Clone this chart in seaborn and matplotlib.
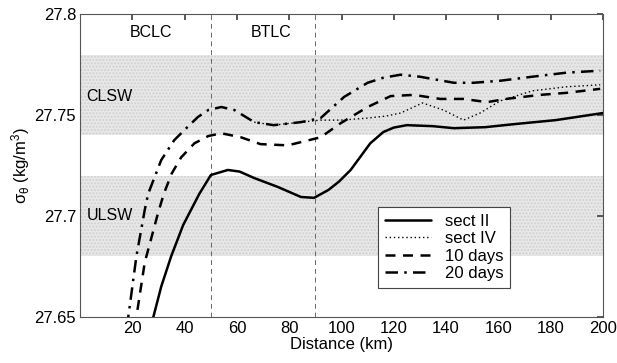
import matplotlib
matplotlib.use("Agg")
import matplotlib.pyplot as plt
import seaborn as sns
import pandas as pd
import numpy as np

sns.set_theme(style="white")
plt.rcParams['font.family'] = ['Liberation Sans', 'DejaVu Sans']
plt.rcParams['mathtext.fontset'] = 'custom'
plt.rcParams['mathtext.rm'] = 'Liberation Sans'
plt.rcParams['mathtext.it'] = 'Liberation Sans'
plt.rcParams['text.color'] = 'black'
plt.rcParams['axes.labelcolor'] = 'black'
plt.rcParams['xtick.color'] = 'black'
plt.rcParams['ytick.color'] = 'black'

# data (distance km, sigma_theta)
sect2_x = [27.0, 28, 31, 34.8, 39.4, 45.6, 50, 56.5, 61, 66.6, 75.6, 84.5, 89.5, 95, 99, 103.5, 111, 116, 120, 125, 135, 143, 155, 166, 182, 200]
sect2_y = [27.645, 27.65, 27.665, 27.68, 27.6955, 27.711, 27.7203, 27.7228, 27.722, 27.7188, 27.7144, 27.7094, 27.709, 27.7129, 27.717, 27.7228, 27.736, 27.7416, 27.7438, 27.745, 27.7445, 27.7435, 27.744, 27.7455, 27.7475, 27.751]

sect4_x = [66.6, 74, 84.5, 92, 99.7, 110, 117, 122.6, 131, 139, 146.7, 153, 160.7, 173, 186, 199]
sect4_y = [27.7465, 27.745, 27.7465, 27.7475, 27.7475, 27.7485, 27.7495, 27.751, 27.756, 27.7525, 27.7475, 27.751, 27.757, 27.762, 27.764, 27.765]

d10_x = [20.5, 21.5, 24.7, 29.8, 32, 35, 38.6, 43.7, 49, 54, 61.5, 69, 79.4, 84.5, 92, 99.7, 110, 118.8, 127.6, 137.8, 146.7, 155.7, 163, 176, 186, 199]
d10_y = [27.645, 27.65, 27.677, 27.7015, 27.711, 27.721, 27.729, 27.736, 27.7396, 27.741, 27.739, 27.7356, 27.735, 27.7366, 27.739, 27.746, 27.754, 27.7594, 27.76, 27.758, 27.758, 27.7564, 27.758, 27.760, 27.761, 27.763]

d20_x = [17.8, 18.4, 21.5, 24.7, 26, 31, 36, 41, 45, 49, 54, 59, 66.6, 74, 84.5, 92, 101, 110, 116, 122.6, 130, 143, 150.5, 160.7, 173, 186, 199]
d20_y = [27.645, 27.65, 27.68, 27.703, 27.711, 27.7277, 27.7376, 27.744, 27.749, 27.7525, 27.754, 27.7525, 27.7465, 27.745, 27.7465, 27.7485, 27.759, 27.766, 27.7685, 27.770, 27.769, 27.766, 27.766, 27.767, 27.769, 27.771, 27.772]

bands = [(27.74, 27.78), (27.68, 27.72)]
vlines = [50, 90]
xticks = [20, 40, 60, 80, 100, 120, 140, 160, 180, 200]
yticks = [27.65, 27.7, 27.75, 27.8]
ytick_labels = ["27.65", "27.7", "27.75", "27.8"]

fig, ax = plt.subplots(figsize=(6.17, 3.63), dpi=100)
fig.subplots_adjust(left=0.13, right=0.977, top=0.961, bottom=0.127)

for lo, hi in bands:
    ax.axhspan(lo, hi, facecolor='#e8e8e8', edgecolor='#d0d0d0', hatch='.....', linewidth=0, zorder=0)
for v in vlines:
    ax.axvline(v, color='#666666', linestyle=(0, (5, 4)), linewidth=0.7, zorder=1)

def draw(x, y, label, ls, lw=1.8):
    df = pd.DataFrame({'x': x, 'y': y})
    sns.lineplot(data=df, x='x', y='y', ax=ax, color='black', linestyle=ls,
                 linewidth=lw, label=label, sort=False, estimator=None, zorder=3)

draw(sect2_x, sect2_y, 'sect II', '-')
draw(sect4_x, sect4_y, 'sect IV', (0, (1, 2)), lw=1.0)
draw(d10_x, d10_y, '10 days', (0, (4, 3)))
draw(d20_x, d20_y, '20 days', (0, (5, 2.5, 1, 2.5)))

ax.set_xlim(0, 200)
ax.set_ylim(27.65, 27.8)
ax.set_xticks(xticks)
ax.set_yticks(yticks)
ax.set_yticklabels(ytick_labels)
ax.tick_params(direction='in', length=4, top=True, right=True, labelsize=12, color='#444444', pad=3)
for s in ax.spines.values():
    s.set_color('#555555')
    s.set_linewidth(0.8)
ax.set_xlabel('Distance (km)', fontsize=12, labelpad=1)
ax.set_ylabel(r'$\sigma_\theta$ (kg/m$^3$)', fontsize=12, labelpad=2)

ax.text(27, 27.791, 'BCLC', ha='center', va='center', fontsize=11.5)
ax.text(73, 27.791, 'BTLC', ha='center', va='center', fontsize=11.5)
ax.text(2.5, 27.759, 'CLSW', ha='left', va='center', fontsize=11.5)
ax.text(2.5, 27.7, 'ULSW', ha='left', va='center', fontsize=11.5)

leg = ax.legend(loc='upper left', bbox_to_anchor=(0.57, 0.363), fontsize=12,
                frameon=True, fancybox=False, borderaxespad=0, handlelength=2.8,
                labelspacing=0.15, borderpad=0.4, handletextpad=0.8)
leg.get_frame().set_edgecolor('#444444')
leg.get_frame().set_facecolor('white')
leg.get_frame().set_alpha(1)
leg.get_frame().set_linewidth(0.8)

fig.savefig('out.png', dpi=100)
